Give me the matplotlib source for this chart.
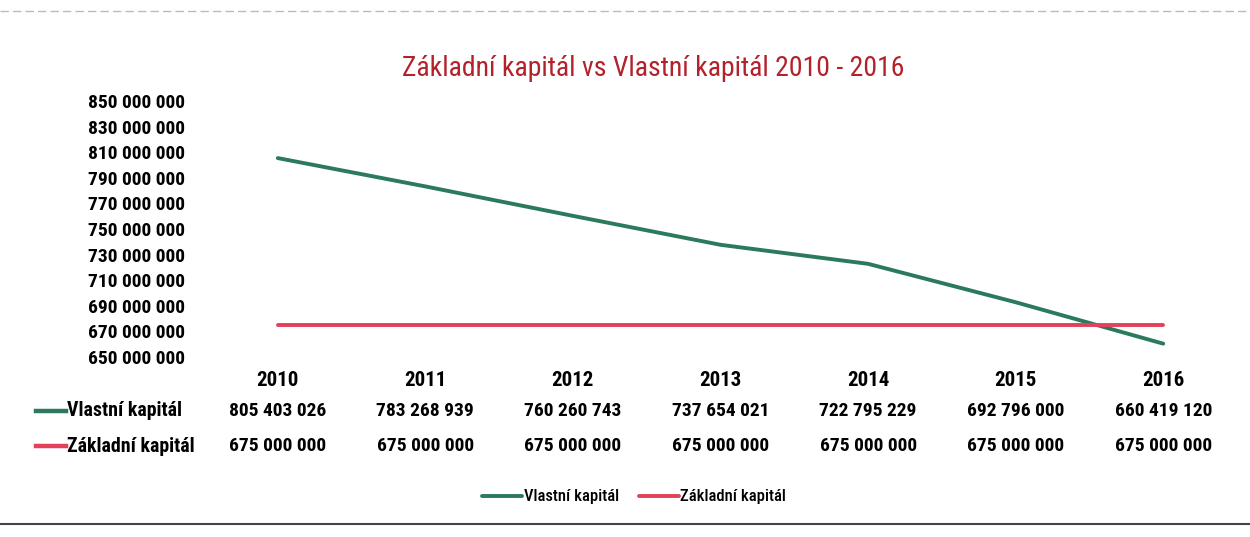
import numpy as np
import matplotlib.pyplot as plt
from matplotlib.lines import Line2D
from matplotlib.transforms import blended_transform_factory

# data
years = ["2010", "2011", "2012", "2013", "2014", "2015", "2016"]
vlastni = [805403026, 783268939, 760260743, 737654021, 722795229, 692796000, 660419120]
zakladni = [675000000, 675000000, 675000000, 675000000, 675000000, 675000000, 675000000]
yticks = list(range(650000000, 850000001, 20000000))

green = "#2b7a5c"
red = "#e3405a"
title_col = "#b3222b"

plt.rcParams['font.family'] = ['Roboto Condensed', 'DejaVu Sans']

def fmt(v):
    return "{:,}".format(v).replace(",", " ")

W, H = 1250, 537
fig = plt.figure(figsize=(W / 100, H / 100), dpi=100)

def fx(px):
    return px / W

def fy(py):
    return 1 - py / H

ax = fig.add_axes([fx(204), fy(357), fx(1237) - fx(204), fy(101) - fy(357)])
x = np.arange(len(years))
ax.plot(x, vlastni, color=green, lw=2.8, solid_capstyle='round', label="Vlastní kapitál")
ax.plot(x, zakladni, color=red, lw=2.8, solid_capstyle='round', label="Základní kapitál")
ax.set_xlim(-0.5, len(years) - 0.5)
ax.set_ylim(650000000, 850000000)
ax.set_yticks(yticks)
ax.set_yticklabels([fmt(v) for v in yticks], fontsize=14, fontweight='bold')
ax.set_xticks([])
ax.tick_params(axis='y', length=0, pad=14)
for s in ax.spines.values():
    s.set_visible(False)

# data table under the plot
tr = blended_transform_factory(ax.transData, fig.transFigure)
for i, yr in enumerate(years):
    ax.text(i, fy(381), yr, transform=tr, ha='center', va='center',
            fontsize=15, fontweight='bold', clip_on=False)
    ax.text(i, fy(411), fmt(vlastni[i]), transform=tr, ha='center', va='center',
            fontsize=14, fontweight='bold', clip_on=False)
    ax.text(i, fy(446), fmt(zakladni[i]), transform=tr, ha='center', va='center',
            fontsize=14, fontweight='bold', clip_on=False)

for name, col, py in [("Vlastní kapitál", green, 411), ("Základní kapitál", red, 446)]:
    fig.add_artist(Line2D([fx(36), fx(66)], [fy(py), fy(py)], color=col, lw=3.2,
                          transform=fig.transFigure))
    fig.text(fx(67), fy(py), name, ha='left', va='center', fontsize=14.3, fontweight='bold')

fig.text(fx(653), fy(68), "Základní kapitál vs Vlastní kapitál 2010 - 2016",
         ha='center', va='center', fontsize=20, color=title_col)

fig.legend(loc='center', bbox_to_anchor=(fx(634), fy(497)), ncol=2, frameon=False,
           prop={'size': 12, 'weight': 'medium'}, handlelength=2.4, columnspacing=1.2,
           handletextpad=0.1)

# scan edges
fig.add_artist(Line2D([0, 1], [fy(11), fy(11)], color="#bbbbbb", lw=1, ls=(0, (6, 3)),
                      transform=fig.transFigure))
fig.add_artist(Line2D([0, 1], [fy(524), fy(524)], color="#444444", lw=1.5,
                      transform=fig.transFigure))

fig.savefig("out.png", dpi=100)
